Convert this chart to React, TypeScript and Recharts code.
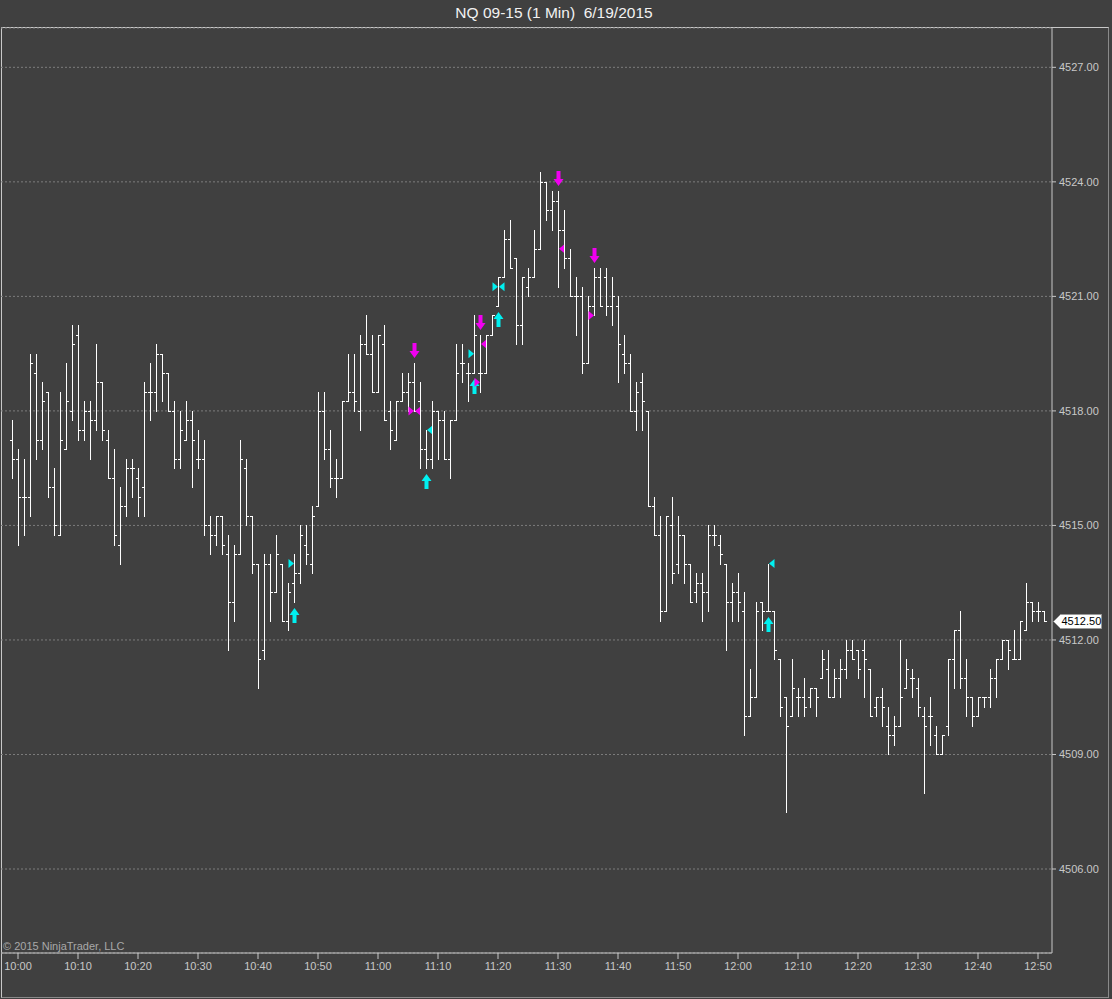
import React from "react";
import {
  ComposedChart,
  Bar,
  XAxis,
  YAxis,
  CartesianGrid,
  ReferenceLine,
} from "recharts";

const FONT = '"Liberation Sans", Arial, sans-serif';
const BG = "#404040";
const AXIS = "#c8c8c8";
const BUY = "#00f0f0";
const SELL = "#f000f0";

// first bar is 9:59, one bar per minute
const firstBarMinute = 9 * 60 + 59;

const opens = [
  4517.25, 4516.75, 4515.75, 4515.75, 4519.0, 4517.25, 4518.5, 4516.0, 4514.75, 4517.0,
  4518.0, 4520.0, 4517.5, 4518.0, 4517.75, 4518.75, 4517.25, 4516.25, 4514.5, 4515.5,
  4516.5, 4516.25, 4516.0, 4518.5, 4518.5, 4519.5, 4519.0, 4518.0, 4516.75, 4517.25,
  4517.75, 4516.75, 4516.75, 4515.0, 4514.75, 4515.25, 4514.25, 4513.0, 4514.25, 4516.5,
  4515.25, 4514.0, 4511.75, 4514.0, 4513.25, 4514.0, 4512.5, 4513.5, 4513.75, 4514.5,
  4514.0, 4515.5, 4518.0, 4517.0, 4516.25, 4516.25, 4518.25, 4518.5, 4518.0, 4519.75,
  4519.5, 4518.5, 4519.75, 4518.0, 4517.25, 4518.25, 4518.5, 4518.75, 4518.25, 4517.0,
  4516.75, 4518.0, 4517.75, 4516.75, 4517.75, 4519.25, 4519.0, 4519.0, 4519.0, 4519.0,
  4520.0, 4520.75, 4521.5, 4522.5, 4522.0, 4520.25, 4521.25, 4521.5, 4522.25, 4524.0,
  4523.25, 4523.5, 4522.75, 4522.0, 4521.0, 4521.0, 4519.25, 4520.75, 4521.5, 4521.5,
  4520.75, 4520.75, 4519.5, 4519.25, 4518.0, 4518.75, 4518.0, 4515.5, 4514.75, 4512.75,
  4515.0, 4514.0, 4514.75, 4514.0, 4513.25, 4513.5, 4513.25, 4514.75, 4514.5, 4514.0,
  4513.0, 4513.25, 4512.75, 4510.0, 4510.5, 4513.0, 4512.75, 4512.75, 4511.5, 4510.5,
  4510.0, 4510.5, 4510.5, 4510.5, 4510.75, 4511.0, 4511.25, 4510.5, 4511.0, 4511.25,
  4511.75, 4511.75, 4511.75, 4511.25, 4510.25, 4510.5, 4509.75, 4509.5, 4509.75, 4510.75,
  4511.0, 4510.75, 4510.0, 4510.0, 4509.5, 4509.0, 4509.75, 4511.5, 4512.25, 4511.0,
  4510.5, 4510.0, 4510.5, 4510.5, 4511.0, 4511.5, 4512.0, 4511.5, 4511.5, 4512.25,
  4513.0, 4512.75, 4512.75,
];

const highs = [
  4517.75, 4517.0, 4516.75, 4519.5, 4519.5, 4518.75, 4518.5, 4516.5, 4518.5, 4519.25,
  4520.25, 4520.25, 4518.25, 4518.25, 4519.75, 4518.75, 4517.5, 4517.0, 4516.0, 4516.75,
  4516.75, 4516.5, 4518.75, 4519.25, 4519.75, 4519.5, 4519.0, 4518.25, 4518.0, 4518.25,
  4518.0, 4517.5, 4517.25, 4515.25, 4515.25, 4515.25, 4514.75, 4514.5, 4517.25, 4516.75,
  4515.25, 4514.0, 4514.25, 4514.25, 4514.75, 4514.0, 4513.5, 4514.25, 4515.0, 4515.0,
  4515.5, 4518.5, 4518.5, 4517.5, 4516.75, 4518.25, 4519.5, 4519.5, 4520.0, 4520.5,
  4520.0, 4520.0, 4520.25, 4518.25, 4518.25, 4519.0, 4519.0, 4519.25, 4518.75, 4517.5,
  4518.25, 4518.0, 4518.0, 4517.75, 4519.75, 4519.75, 4519.25, 4520.5, 4520.0, 4520.0,
  4520.5, 4521.5, 4522.75, 4523.0, 4522.0, 4521.5, 4521.75, 4522.75, 4524.25, 4524.0,
  4523.75, 4523.75, 4523.25, 4522.25, 4521.5, 4521.25, 4521.0, 4521.75, 4521.75, 4521.75,
  4521.5, 4521.0, 4520.0, 4519.5, 4518.75, 4519.0, 4518.0, 4515.75, 4515.25, 4515.25,
  4515.75, 4515.25, 4514.75, 4514.0, 4513.75, 4513.75, 4515.0, 4515.0, 4514.75, 4514.0,
  4513.5, 4513.75, 4513.25, 4511.25, 4513.0, 4513.0, 4514.0, 4512.75, 4511.5, 4510.5,
  4511.5, 4510.75, 4511.0, 4510.75, 4510.75, 4511.75, 4511.75, 4511.25, 4511.5, 4512.0,
  4512.0, 4511.75, 4512.0, 4511.25, 4510.5, 4510.75, 4510.25, 4510.0, 4512.0, 4511.5,
  4511.25, 4511.0, 4510.25, 4510.5, 4509.75, 4509.5, 4511.5, 4512.25, 4512.75, 4511.5,
  4510.5, 4510.5, 4510.5, 4511.25, 4511.5, 4512.0, 4512.0, 4512.25, 4512.5, 4513.5,
  4513.0, 4513.0, 4512.75,
];

const lows = [
  4516.25, 4514.5, 4514.75, 4515.25, 4516.75, 4517.0, 4515.75, 4514.75, 4514.75, 4517.0,
  4517.75, 4517.25, 4517.25, 4516.75, 4517.5, 4517.25, 4516.25, 4514.5, 4514.0, 4515.25,
  4515.75, 4515.25, 4515.25, 4517.75, 4518.0, 4518.25, 4518.0, 4516.5, 4516.5, 4517.25,
  4516.0, 4516.5, 4514.75, 4514.25, 4514.5, 4514.25, 4511.75, 4512.5, 4514.25, 4515.0,
  4513.75, 4510.75, 4511.5, 4512.5, 4513.25, 4512.5, 4512.25, 4513.0, 4513.5, 4514.0,
  4513.75, 4515.5, 4516.75, 4516.0, 4515.75, 4516.25, 4518.25, 4518.0, 4517.5, 4519.5,
  4518.5, 4518.5, 4517.75, 4517.0, 4517.25, 4518.25, 4518.0, 4518.0, 4516.5, 4516.5,
  4516.5, 4516.75, 4516.75, 4516.25, 4517.75, 4518.75, 4518.25, 4519.0, 4518.5, 4519.0,
  4520.0, 4520.75, 4521.5, 4521.75, 4519.75, 4519.75, 4521.0, 4521.5, 4522.25, 4523.0,
  4522.75, 4521.25, 4521.75, 4521.0, 4520.0, 4519.0, 4519.25, 4520.5, 4520.75, 4520.5,
  4520.25, 4518.75, 4519.0, 4518.0, 4517.5, 4517.5, 4515.5, 4514.75, 4512.5, 4512.75,
  4513.5, 4513.75, 4513.5, 4513.0, 4513.0, 4512.5, 4512.75, 4514.5, 4514.0, 4511.75,
  4512.5, 4512.5, 4509.5, 4510.0, 4510.5, 4512.25, 4512.75, 4511.5, 4510.0, 4507.5,
  4510.0, 4510.0, 4510.0, 4510.25, 4510.0, 4511.0, 4510.5, 4510.5, 4510.5, 4511.0,
  4511.5, 4511.0, 4510.5, 4510.0, 4510.0, 4509.75, 4509.0, 4509.25, 4509.75, 4510.75,
  4510.5, 4510.0, 4508.0, 4509.25, 4509.0, 4509.0, 4509.5, 4510.75, 4510.75, 4510.0,
  4509.75, 4510.0, 4510.25, 4510.25, 4510.5, 4511.5, 4511.25, 4511.5, 4511.5, 4512.25,
  4512.5, 4512.5, 4512.5,
];

const closes = [
  4516.75, 4515.75, 4515.75, 4519.25, 4517.25, 4518.25, 4516.0, 4515.0, 4517.25, 4518.25,
  4519.75, 4517.5, 4518.0, 4517.75, 4518.75, 4517.5, 4516.25, 4514.75, 4515.5, 4516.5,
  4516.5, 4515.75, 4518.5, 4518.5, 4519.5, 4519.0, 4518.0, 4516.75, 4517.5, 4517.75,
  4517.25, 4516.75, 4515.0, 4514.75, 4515.25, 4514.5, 4513.0, 4514.25, 4516.75, 4515.25,
  4514.0, 4511.5, 4514.0, 4513.25, 4514.25, 4512.5, 4513.25, 4513.75, 4514.75, 4514.25,
  4515.25, 4518.0, 4517.0, 4516.25, 4516.25, 4518.25, 4518.5, 4518.25, 4519.75, 4519.5,
  4518.5, 4520.0, 4517.75, 4517.5, 4518.25, 4518.5, 4518.75, 4518.0, 4517.0, 4516.75,
  4518.0, 4517.75, 4516.75, 4517.75, 4519.0, 4519.25, 4519.0, 4520.0, 4519.0, 4520.0,
  4520.5, 4521.5, 4522.5, 4521.75, 4520.25, 4521.5, 4521.5, 4522.25, 4524.0, 4523.25,
  4523.5, 4522.75, 4522.0, 4521.0, 4521.0, 4519.25, 4520.75, 4521.5, 4520.75, 4520.75,
  4521.0, 4519.75, 4519.25, 4518.0, 4518.5, 4518.25, 4515.5, 4514.75, 4512.75, 4515.25,
  4513.75, 4514.75, 4514.0, 4513.0, 4513.5, 4513.25, 4514.75, 4514.75, 4514.25, 4513.0,
  4513.25, 4513.0, 4510.0, 4510.5, 4512.75, 4512.75, 4512.75, 4511.75, 4510.25, 4509.75,
  4510.75, 4510.5, 4510.25, 4510.75, 4510.5, 4511.5, 4510.5, 4511.0, 4511.25, 4511.75,
  4511.5, 4511.25, 4511.5, 4510.0, 4510.5, 4510.25, 4509.5, 4509.75, 4510.5, 4511.25,
  4511.0, 4510.25, 4509.75, 4510.0, 4509.0, 4509.5, 4511.5, 4512.25, 4511.0, 4510.5,
  4510.0, 4510.5, 4510.5, 4511.0, 4511.5, 4512.0, 4511.75, 4511.5, 4512.5, 4513.0,
  4512.75, 4512.75, 4512.5,
];

const timeTicks = [
  "10:00", "10:10", "10:20", "10:30", "10:40", "10:50",
  "11:00", "11:10", "11:20", "11:30", "11:40", "11:50",
  "12:00", "12:10", "12:20", "12:30", "12:40", "12:50",
];
const priceTicks = [4506, 4509, 4512, 4515, 4518, 4521, 4524, 4527];

// signal markers (bar index), arrows under lows / over highs
const buyArrows = [47, 69, 77, 81, 126];
const sellArrows = [67, 78, 91, 97];
// small flags beside a bar at a price; "left" points right, "right" points left
const buyFlags = [
  { bar: 47, price: 4514.0, side: "left" },
  { bar: 69, price: 4517.5, side: "right" },
  { bar: 77, price: 4519.5, side: "left" },
  { bar: 81, price: 4521.25, side: "both" },
  { bar: 126, price: 4514.0, side: "right" },
];
const sellFlags = [
  { bar: 67, price: 4518.0, side: "both" },
  { bar: 78, price: 4518.75, side: "left" },
  { bar: 78, price: 4519.75, side: "right" },
  { bar: 91, price: 4522.25, side: "right" },
  { bar: 97, price: 4520.5, side: "left" },
];

const lastClose = closes[closes.length - 1];

const data = opens.map((open, i) => {
  const m = firstBarMinute + i;
  return {
    idx: i,
    time: `${Math.floor(m / 60)}:${String(m % 60).padStart(2, "0")}`,
    open,
    high: highs[i],
    low: lows[i],
    close: closes[i],
    range: [lows[i], highs[i]],
  };
});

function flagShapes(mx: number, y: number, side: string, color: string, key: string) {
  const out = [];
  if (side === "left" || side === "both") {
    out.push(
      <polygon
        key={key + "l"}
        points={`${mx - 6},${y - 4.5} ${mx - 6},${y + 4.5} ${mx - 0.5},${y}`}
        fill={color}
      />
    );
  }
  if (side === "right" || side === "both") {
    out.push(
      <polygon
        key={key + "r"}
        points={`${mx + 6},${y - 4.5} ${mx + 6},${y + 4.5} ${mx + 0.5},${y}`}
        fill={color}
      />
    );
  }
  return out;
}

function arrowPath(mx: number, tip: number, dir: number) {
  // dir = 1 points up (tip on top), -1 points down
  const h = 7 * dir;
  const len = 15 * dir;
  return `M${mx},${tip} L${mx + 5},${tip + h} L${mx + 2},${tip + h} L${mx + 2},${tip + len} L${mx - 2},${tip + len} L${mx - 2},${tip + h} L${mx - 5},${tip + h} Z`;
}

function OhlcBar(props: any) {
  const { x, y, width, height, payload } = props;
  if (!payload || !height) return null;
  const { idx, open, high, low, close } = payload;
  const cx = Math.round(x + width / 2);
  const mx = cx + 0.5;
  const perPoint = height / (high - low);
  const py = (p: number) => y + (high - p) * perPoint;
  const snap = (v: number) => Math.round(v) + 0.5;
  const top = Math.round(py(high));
  const bottom = Math.round(py(low));
  const oy = snap(py(open));
  const cy = snap(py(close));

  const parts = [
    <line key="hl" x1={mx} x2={mx} y1={top} y2={bottom + 1} stroke="#ffffff" />,
    <line key="o" x1={cx - 2} x2={cx} y1={oy} y2={oy} stroke="#ffffff" />,
    <line key="c" x1={cx + 1} x2={cx + 3} y1={cy} y2={cy} stroke="#ffffff" />,
  ];

  if (buyArrows.includes(idx)) {
    parts.push(<path key="ua" d={arrowPath(mx, bottom + 6, 1)} fill={BUY} />);
  }
  if (sellArrows.includes(idx)) {
    parts.push(<path key="da" d={arrowPath(mx, top - 5, -1)} fill={SELL} />);
  }
  buyFlags
    .filter((f) => f.bar === idx)
    .forEach((f, k) => parts.push(...flagShapes(mx, py(f.price), f.side, BUY, "b" + k)));
  sellFlags
    .filter((f) => f.bar === idx)
    .forEach((f, k) => parts.push(...flagShapes(mx, py(f.price), f.side, SELL, "s" + k)));

  return <g>{parts}</g>;
}

function PriceTag(props: any) {
  const vb = props.viewBox;
  if (!vb) return null;
  const yc = Math.round(vb.y) + 0.5;
  const x0 = vb.x + vb.width + 1.5;
  return (
    <g>
      <path
        d={`M${x0},${yc} L${x0 + 7},${yc - 7} L${x0 + 48},${yc - 7} L${x0 + 48},${yc + 7} L${x0 + 7},${yc + 7} Z`}
        fill="#ffffff"
        stroke="#9a9a9a"
      />
      <text
        x={x0 + 8}
        y={yc}
        dy="0.36em"
        fontSize={11}
        fontFamily={FONT}
        fill="#000000"
      >
        {lastClose.toFixed(2)}
      </text>
    </g>
  );
}

export default function App() {
  return (
    <div
      style={{
        position: "absolute",
        left: 0,
        top: 0,
        width: 1112,
        height: 999,
        background: BG,
        overflow: "hidden",
        fontFamily: FONT,
      }}
    >
      <div
        style={{
          position: "absolute",
          left: 0,
          top: 4,
          width: 1108,
          textAlign: "center",
          fontSize: 15.5,
          lineHeight: "18px",
          color: "#f2f2f2",
          whiteSpace: "pre",
        }}
      >
        {"NQ 09-15 (1 Min)  6/19/2015"}
      </div>
      <div
        style={{
          position: "absolute",
          left: 1,
          top: 27,
          width: 1108,
          height: 971,
          boxSizing: "border-box",
          borderTop: `1px solid ${AXIS}`,
          borderLeft: `1px solid ${AXIS}`,
          borderRight: "1px solid #8a8a8a",
          borderBottom: "1px solid #8a8a8a",
        }}
      />
      <div
        style={{
          position: "absolute",
          left: 3,
          top: 940,
          fontSize: 11,
          lineHeight: "12px",
          color: "#a8a8a8",
        }}
      >
        © 2015 NinjaTrader, LLC
      </div>
      <ComposedChart
        width={1112}
        height={999}
        data={data}
        margin={{ top: 28, right: 0, bottom: 0, left: 1 }}
        style={{ position: "absolute", left: 0, top: 0 }}
      >
        <CartesianGrid vertical={false} stroke="#7c7c7c" strokeDasharray="2 2" />
        <XAxis
          dataKey="time"
          type="category"
          ticks={timeTicks}
          interval={0}
          padding={{ left: 8, right: 5 }}
          height={46}
          axisLine={{ stroke: AXIS }}
          tickLine={{ stroke: AXIS }}
          tickSize={6}
          tickMargin={3}
          tick={{ fill: AXIS, fontSize: 11, fontFamily: FONT }}
        />
        <YAxis
          orientation="right"
          width={60}
          domain={[4503.8, 4528.03]}
          allowDataOverflow
          ticks={priceTicks}
          tickFormatter={(v: number) => v.toFixed(2)}
          axisLine={{ stroke: AXIS }}
          tickLine={{ stroke: AXIS }}
          tickSize={4}
          tickMargin={3}
          tick={{ fill: AXIS, fontSize: 11, fontFamily: FONT, textAnchor: "start" }}
        />
        <Bar
          dataKey="range"
          barSize={6}
          shape={OhlcBar}
          isAnimationActive={false}
        />
        <ReferenceLine y={lastClose} stroke="none" label={<PriceTag />} />
      </ComposedChart>
    </div>
  );
}
